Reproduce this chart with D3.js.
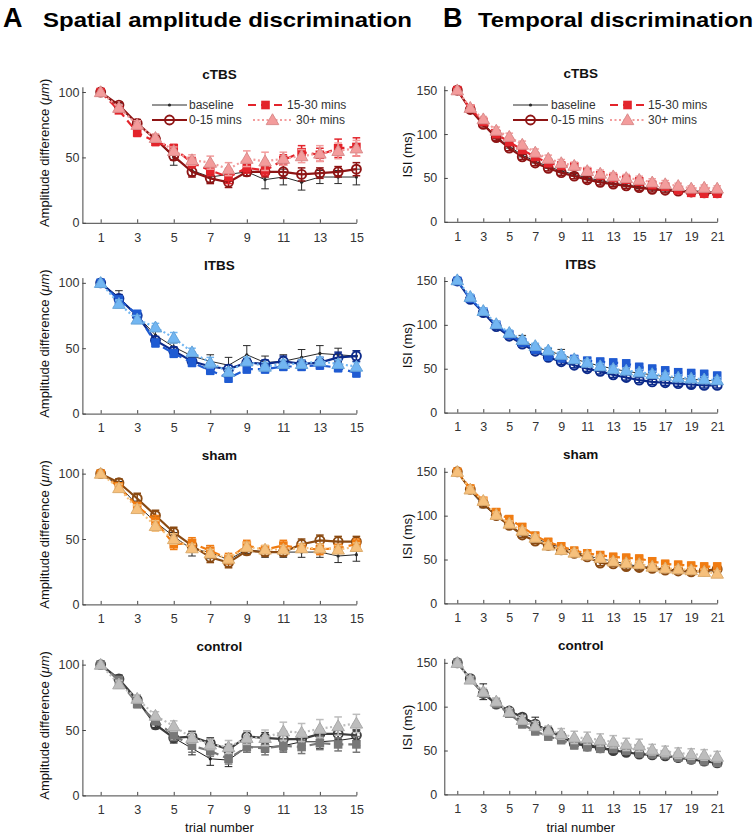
<!DOCTYPE html>
<html><head><meta charset="utf-8">
<script src="https://cdn.jsdelivr.net/npm/d3@7"></script>
<style>
body{margin:0;background:#fff;}
svg{display:block;font-family:"Liberation Sans",Arial,sans-serif;}
</style></head>
<body><svg id="c" width="755" height="835"></svg>
<script>
// ---------- data ----------
const groups = ["cTBS", "ITBS", "sham", "control"];
const seriesNames = ["baseline", "0-15 mins", "15-30 mins", "30+ mins"];
const ampTrials = d3.range(1, 16);
const isiTrials = d3.range(1, 22);
const ampXTicks = [1, 3, 5, 7, 9, 11, 13, 15];
const isiXTicks = [1, 3, 5, 7, 9, 11, 13, 15, 17, 19, 21];
const ampYTicks = [0, 50, 100];
const isiYTicks = [0, 50, 100, 150];

const colors_cTBS = ["#2a2a2a", "#8e1414", "#e3242b", "#f39c9c"];
const colors_ITBS = ["#2a2a2a", "#0c2a8a", "#1f5bd2", "#72b6f2"];
const colors_sham = ["#2a2a2a", "#8a4a12", "#f07c12", "#f6c07c"];
const colors_control = ["#1e1e1e", "#3c3c3c", "#787878", "#bdbdbd"];

// Spatial amplitude discrimination (µm)
const amp_cTBS = [
  [100, 88, 76, 64, 50, 40, 35, 37, 39, 33, 35, 31, 35, 35, 35],
  [100, 90, 76, 64, 51, 39, 34, 31, 39, 39, 39, 37, 38, 39, 41],
  [100, 86, 69, 62, 57, 46, 40, 35, 42, 40, 48, 54, 52, 57, 58],
  [100, 88, 75, 65, 55, 48, 46, 41, 49, 47, 49, 51, 53, 55, 57]];
const amp_cTBS_err = [
  [0, 3, 3, 3, 6, 4, 4, 4, 3, 7, 6, 6, 5, 5, 6],
  [0, 2, 3, 3, 3, 4, 4, 4, 3, 4, 5, 5, 4, 4, 5],
  [0, 2, 3, 3, 3, 4, 4, 5, 4, 4, 4, 5, 5, 7, 7],
  [0, 2, 3, 3, 3, 4, 5, 5, 6, 7, 5, 5, 6, 6, 6]];
const amp_ITBS = [
  [100, 89, 75, 60, 51, 44, 40, 37, 45, 39, 40, 43, 46, 45, 44],
  [100, 88, 75, 56, 48, 40, 36, 34, 39, 38, 40, 38, 39, 43, 44],
  [100, 87, 76, 54, 46, 39, 33, 27, 34, 34, 36, 36, 37, 35, 31],
  [100, 84, 72, 66, 58, 47, 39, 32, 40, 36, 38, 38, 40, 38, 36]];
const amp_ITBS_err = [
  [0, 5, 3, 3, 3, 3, 5, 6, 7, 5, 5, 6, 6, 5, 4],
  [0, 3, 3, 3, 3, 3, 3, 3, 3, 3, 4, 3, 4, 4, 4],
  [0, 3, 3, 3, 3, 3, 3, 3, 3, 3, 3, 3, 3, 3, 3],
  [0, 3, 3, 3, 4, 3, 4, 3, 3, 3, 3, 3, 3, 3, 3]];
const amp_sham = [
  [100, 91, 76, 63, 52, 42, 40, 34, 42, 40, 40, 40, 40, 37, 38],
  [100, 93, 81, 68, 55, 45, 36, 32, 41, 40, 40, 46, 49, 48, 48],
  [100, 90, 75, 64, 46, 47, 41, 35, 45, 42, 45, 43, 42, 43, 46],
  [100, 89, 73, 60, 50, 43, 39, 35, 44, 42, 42, 43, 43, 42, 44]];
const amp_sham_err = [
  [0, 3, 3, 4, 3, 5, 5, 3, 3, 4, 4, 4, 4, 5, 5],
  [0, 3, 4, 4, 4, 4, 4, 4, 3, 3, 3, 4, 4, 4, 4],
  [0, 3, 3, 4, 4, 4, 4, 4, 4, 3, 4, 3, 4, 3, 4],
  [0, 3, 3, 4, 4, 3, 3, 3, 3, 3, 3, 3, 3, 3, 3]];
const amp_control = [
  [100, 88, 72, 55, 44, 36, 28, 27, 37, 37, 38, 41, 41, 42, 44],
  [100, 89, 73, 54, 44, 45, 40, 35, 45, 44, 43, 43, 47, 47, 46],
  [100, 88, 70, 57, 46, 38, 34, 28, 37, 36, 38, 37, 40, 39, 39],
  [100, 85, 74, 61, 53, 44, 39, 37, 44, 44, 49, 48, 51, 53, 55]];
const amp_control_err = [
  [0, 3, 3, 3, 4, 5, 5, 5, 4, 4, 4, 5, 5, 5, 6],
  [0, 3, 3, 3, 3, 4, 4, 4, 4, 4, 4, 5, 4, 4, 4],
  [0, 3, 3, 3, 4, 5, 4, 4, 4, 5, 5, 5, 5, 5, 6],
  [0, 3, 3, 3, 4, 4, 4, 5, 5, 6, 7, 7, 7, 7, 7]];

// Temporal discrimination, ISI (ms)
const isi_cTBS = [
  [150, 128, 112, 97, 86, 76, 69, 63, 58, 54, 50, 47, 44, 42, 40, 38, 37, 36, 35, 35, 34],
  [150, 128, 111, 96, 84, 74, 67, 61, 56, 52, 48, 45, 43, 41, 39, 37, 36, 35, 34, 33, 33],
  [150, 129, 114, 100, 91, 82, 74, 67, 64, 63, 57, 53, 50, 48, 46, 42, 40, 36, 33, 32, 32],
  [150, 130, 117, 104, 97, 88, 79, 72, 67, 64, 58, 55, 52, 50, 48, 45, 43, 41, 38, 39, 38]];
const isi_cTBS_err = [
  [1, 2, 2, 2, 2, 2, 2, 2, 2, 2, 2, 2, 2, 2, 2, 2, 2, 2, 2, 2, 2],
  [1, 3, 3, 3, 3, 3, 3, 3, 3, 3, 3, 3, 3, 3, 3, 3, 3, 3, 3, 3, 3],
  [1, 3, 3, 4, 4, 4, 4, 4, 4, 4, 4, 4, 4, 4, 4, 4, 3, 3, 3, 3, 3],
  [1, 3, 3, 4, 4, 4, 4, 4, 4, 4, 4, 4, 4, 4, 4, 4, 4, 3, 3, 3, 3]];
const isi_ITBS = [
  [150, 130, 115, 100, 90, 82, 75, 70, 66, 61, 57, 53, 50, 47, 45, 43, 41, 39, 38, 37, 36],
  [150, 129, 114, 98, 87, 78, 70, 63, 58, 54, 50, 47, 43, 40, 37, 35, 34, 33, 32, 31, 31],
  [150, 130, 115, 100, 89, 80, 72, 64, 62, 61, 59, 58, 57, 56, 52, 50, 48, 46, 45, 44, 42],
  [151, 132, 116, 101, 91, 83, 76, 71, 66, 61, 57, 53, 50, 48, 46, 44, 42, 40, 39, 38, 37]];
const isi_ITBS_err = [
  [1, 2, 2, 2, 3, 6, 3, 3, 6, 3, 3, 3, 3, 3, 3, 3, 3, 3, 3, 3, 3],
  [1, 3, 3, 3, 3, 3, 3, 3, 3, 3, 3, 3, 3, 3, 3, 3, 3, 3, 3, 3, 3],
  [1, 3, 3, 3, 4, 4, 4, 4, 4, 4, 4, 4, 4, 4, 4, 4, 4, 4, 4, 4, 4],
  [1, 3, 3, 3, 3, 3, 3, 3, 3, 3, 3, 3, 3, 3, 3, 3, 3, 3, 3, 3, 3]];
const isi_sham = [
  [150, 128, 112, 100, 89, 80, 75, 68, 64, 60, 54, 51, 48, 45, 42, 41, 39, 38, 37, 37, 37],
  [150, 130, 114, 100, 89, 78, 71, 66, 61, 57, 53, 46, 45, 42, 41, 40, 38, 37, 36, 37, 39],
  [150, 131, 117, 104, 96, 87, 77, 70, 65, 60, 57, 55, 53, 52, 51, 48, 45, 44, 43, 42, 42],
  [150, 130, 117, 101, 91, 83, 75, 66, 61, 58, 55, 52, 48, 46, 45, 42, 40, 39, 38, 36, 34]];
const isi_sham_err = [
  [1, 2, 3, 3, 3, 3, 6, 4, 4, 3, 3, 3, 3, 3, 4, 3, 3, 3, 3, 3, 3],
  [1, 3, 3, 3, 3, 3, 3, 3, 3, 3, 3, 3, 3, 3, 3, 3, 3, 3, 3, 3, 3],
  [1, 3, 3, 4, 4, 4, 4, 4, 4, 4, 4, 4, 4, 4, 4, 4, 4, 4, 4, 4, 4],
  [1, 3, 3, 3, 3, 3, 3, 3, 3, 3, 3, 3, 3, 3, 3, 3, 3, 3, 3, 3, 3]];
const isi_control = [
  [150, 132, 117, 104, 95, 89, 81, 73, 68, 60, 57, 54, 51, 48, 46, 45, 44, 42, 40, 38, 37],
  [150, 132, 115, 103, 95, 88, 80, 72, 66, 58, 55, 53, 50, 48, 46, 45, 44, 42, 40, 38, 36],
  [150, 131, 115, 103, 92, 80, 72, 66, 62, 56, 54, 52, 52, 50, 47, 46, 45, 42, 40, 38, 36],
  [150, 131, 117, 106, 94, 85, 78, 73, 69, 65, 64, 62, 60, 57, 56, 51, 49, 47, 46, 45, 43]];
const isi_control_err = [
  [1, 3, 9, 5, 4, 3, 7, 4, 3, 3, 3, 3, 3, 3, 3, 3, 3, 3, 3, 3, 3],
  [1, 3, 3, 3, 3, 3, 3, 3, 3, 3, 3, 3, 3, 3, 3, 3, 3, 3, 3, 3, 3],
  [1, 3, 3, 3, 4, 4, 4, 4, 4, 4, 4, 4, 4, 4, 4, 4, 4, 4, 4, 4, 4],
  [1, 3, 4, 4, 4, 5, 5, 5, 6, 7, 7, 7, 7, 7, 7, 6, 6, 6, 6, 6, 6]];

const ampData = [amp_cTBS, amp_ITBS, amp_sham, amp_control];
const ampErr = [amp_cTBS_err, amp_ITBS_err, amp_sham_err, amp_control_err];
const isiData = [isi_cTBS, isi_ITBS, isi_sham, isi_control];
const isiErr = [isi_cTBS_err, isi_ITBS_err, isi_sham_err, isi_control_err];
const groupColors = [colors_cTBS, colors_ITBS, colors_sham, colors_control];

// ---------- styles ----------
const markerTypes = ["dot", "circle", "square", "triangle"];
const dashes = [null, null, "8,5", "2,2.5"];
const widths = [1, 2.2, 2.2, 2.2];

const svg = d3.select("#c");
const AXC = "#444";

// header
function header(letter, title, x, tx, len) {
  svg.append("text").attr("x", x).attr("y", 27).attr("font-size", 27).attr("font-weight", "bold")
    .attr("fill", "#000").text(letter);
  svg.append("text").attr("x", tx).attr("y", 27).attr("font-size", 21).attr("font-weight", "bold")
    .attr("fill", "#000").attr("textLength", len).attr("lengthAdjust", "spacingAndGlyphs").text(title);
}
header("A", "Spatial amplitude discrimination", 3, 43, 369);
header("B", "Temporal discrimination", 443, 478, 275);

function drawMarker(g, type, x, y, color) {
  if (type === "dot") {
    g.append("circle").attr("cx", x).attr("cy", y).attr("r", 1.6).attr("fill", color);
  } else if (type === "circle") {
    g.append("circle").attr("cx", x).attr("cy", y).attr("r", 4.5).attr("fill", "none")
      .attr("stroke", color).attr("stroke-width", 1.9);
  } else if (type === "square") {
    g.append("rect").attr("x", x - 4.3).attr("y", y - 4.3).attr("width", 8.6).attr("height", 8.6).attr("fill", color);
  } else {
    g.append("path").attr("transform", `translate(${x},${y + 1})`)
      .attr("d", d3.symbol(d3.symbolTriangle, 68)()).attr("fill", color)
      .attr("stroke", d3.color(color).darker(0.3)).attr("stroke-width", 1);
  }
}

function panel(opts) {
  const {x0, x1, zeroY, xDomain, yMax, trials, data, err, colors, xTicks, yTicks, title, yPad, legend} = opts;
  const g = svg.append("g");
  const x = d3.scaleLinear().domain(xDomain).range([x0, x1]);
  const y = d3.scaleLinear().domain([0, yMax]).range([zeroY, zeroY - 136]);

  // axes
  const xa = g.append("g").attr("transform", `translate(0,${zeroY})`)
    .call(d3.axisBottom(x).tickValues(xTicks).tickSizeInner(-3.5).tickSizeOuter(0).tickPadding(10));
  const ya = g.append("g").attr("transform", `translate(${x0},0)`)
    .call(d3.axisLeft(y).tickValues(yTicks).tickSizeInner(-3.5).tickSizeOuter(0).tickPadding(yPad));
  [xa, ya].forEach(a => {
    a.select(".domain").attr("stroke", AXC).attr("stroke-width", 1);
    a.selectAll(".tick line").attr("stroke", AXC);
    a.selectAll(".tick text").attr("fill", "#333").attr("font-size", 12.5)
      .attr("font-family", "'Liberation Sans', Arial, sans-serif");
  });

  // title
  g.append("text").attr("x", (x0 + x1) / 2).attr("y", zeroY - 144).attr("text-anchor", "middle")
    .attr("font-size", 13.5).attr("font-weight", "bold").attr("fill", "#111").text(title);

  // series
  data.forEach((vals, si) => {
    const col = colors[si];
    const sg = g.append("g");
    // error bars
    vals.forEach((v, i) => {
      const e = err[si][i];
      if (!e) return;
      const cx = x(trials[i]);
      const sw = si === 0 ? 1 : 1.5;
      sg.append("line").attr("x1", cx).attr("x2", cx).attr("y1", y(v - e)).attr("y2", y(v + e))
        .attr("stroke", col).attr("stroke-width", sw);
      [v - e, v + e].forEach(t => sg.append("line").attr("x1", cx - 3.8).attr("x2", cx + 3.8)
        .attr("y1", y(t)).attr("y2", y(t)).attr("stroke", col).attr("stroke-width", sw));
    });
    const line = d3.line().x((d, i) => x(trials[i])).y(d => y(d));
    sg.append("path").attr("d", line(vals)).attr("fill", "none").attr("stroke", col)
      .attr("stroke-width", widths[si]).attr("stroke-dasharray", dashes[si]);
    vals.forEach((v, i) => drawMarker(sg, markerTypes[si], x(trials[i]), y(v), col));
  });

  // legend
  if (legend) {
    legend.forEach((L, si) => {
      const col = colors[si];
      g.append("line").attr("x1", L[0]).attr("x2", L[1]).attr("y1", L[3]).attr("y2", L[3])
        .attr("stroke", col).attr("stroke-width", widths[si]).attr("stroke-dasharray", dashes[si]);
      drawMarker(g, markerTypes[si], (L[0] + L[1]) / 2, L[3], col);
      g.append("text").attr("x", L[2]).attr("y", L[3] + 4.2).attr("font-size", 12).attr("fill", "#333")
        .text(seriesNames[si]);
    });
  }
}

const zeros = [222.8, 413.6, 604.4, 795.4];
groups.forEach((grp, gi) => {
  panel({
    x0: 82.4, x1: 356.4, zeroY: zeros[gi], xDomain: [0, 15], yMax: 104,
    trials: ampTrials, data: ampData[gi], err: ampErr[gi], colors: groupColors[gi],
    xTicks: ampXTicks, yTicks: ampYTicks, title: grp, yPad: 3,
    legend: gi === 0 ? [[152, 187, 189, 105], [152, 187, 189, 120], [248, 283, 287, 105], [253, 292, 296, 120]] : null
  });
  panel({
    x0: 444.3, x1: 717.2, zeroY: zeros[gi] - 1, xDomain: [0, 21], yMax: 155,
    trials: isiTrials, data: isiData[gi], err: isiErr[gi], colors: groupColors[gi],
    xTicks: isiXTicks, yTicks: isiYTicks, title: grp, yPad: 7,
    legend: gi === 0 ? [[513, 548, 551, 105], [513, 548, 551, 120], [610, 645, 648, 105], [610, 645, 648, 120]] : null
  });
  // y labels
  const ly = svg.append("text").attr("transform", `translate(49,${zeros[gi] - 70}) rotate(-90)`)
    .attr("text-anchor", "middle").attr("font-size", 13).attr("fill", "#111");
  ly.append("tspan").text("Amplitude difference (");
  ly.append("tspan").attr("font-style", "italic").text("\u03bcm");
  ly.append("tspan").text(")");
  svg.append("text").attr("transform", `translate(412,${zeros[gi] - 68}) rotate(-90)`)
    .attr("text-anchor", "middle").attr("font-size", 13).attr("fill", "#111").text("ISI (ms)");
});

svg.append("text").attr("x", 219.4).attr("y", 832).attr("text-anchor", "middle").attr("font-size", 13)
  .attr("fill", "#111").text("trial number");
svg.append("text").attr("x", 580.7).attr("y", 832).attr("text-anchor", "middle").attr("font-size", 13)
  .attr("fill", "#111").text("trial number");
</script></body></html>
